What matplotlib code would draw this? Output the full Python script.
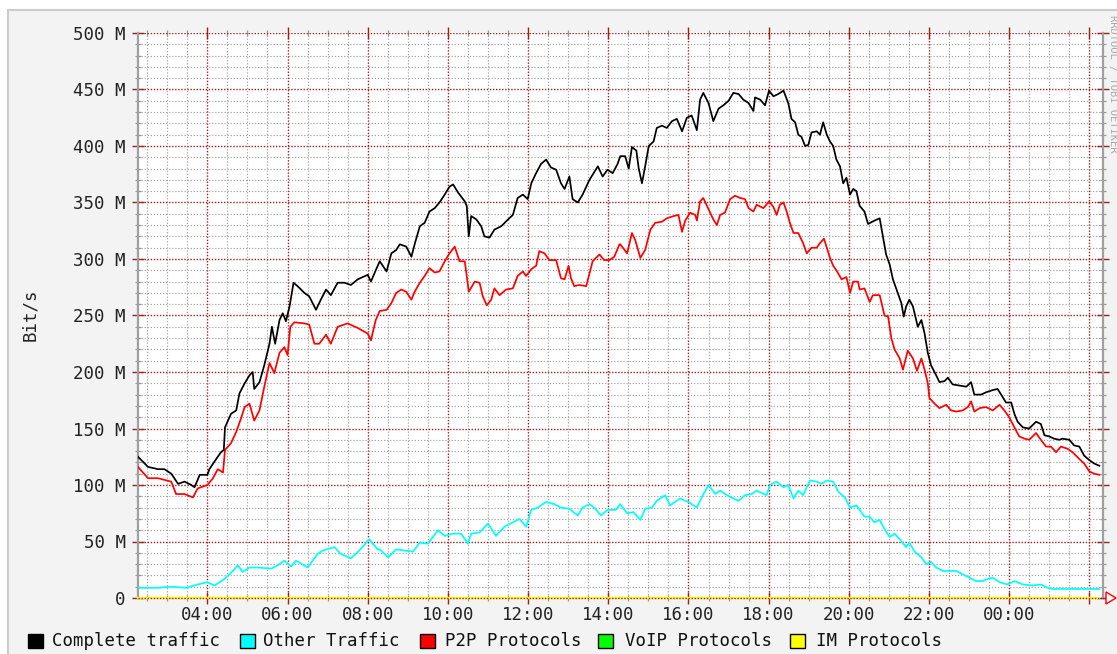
import matplotlib
matplotlib.use("Agg")
import matplotlib.pyplot as plt
from matplotlib.ticker import MultipleLocator, FixedLocator, FixedFormatter
from matplotlib.patches import Rectangle, Polygon
from matplotlib.transforms import IdentityTransform

# ---------------- data (hours of day, Mbit/s) ----------------
complete_t = [2.27, 2.52, 2.77, 2.93, 3.10, 3.27, 3.43, 3.60, 3.68, 3.81, 4.00, 4.05, 4.22, 4.34, 4.41, 4.44,
              4.59, 4.72, 4.80, 4.93, 5.05, 5.13, 5.17, 5.30, 5.42, 5.55, 5.61, 5.69, 5.80, 5.88, 5.96, 6.05,
              6.15, 6.25, 6.42, 6.54, 6.71, 6.83, 6.96, 7.08, 7.25, 7.42, 7.58, 7.75, 8.00, 8.08, 8.20,
              8.30, 8.47, 8.59, 8.71, 8.80, 8.96, 9.09, 9.17, 9.30, 9.42, 9.54, 9.67, 9.79, 9.92, 10.04, 10.13,
              10.25, 10.42, 10.47, 10.52, 10.58, 10.71, 10.83, 10.91, 11.04, 11.16, 11.33, 11.50, 11.62, 11.74,
              11.87, 11.99, 12.08, 12.20, 12.32, 12.45, 12.57, 12.70, 12.82, 12.91, 13.03, 13.11, 13.24, 13.36,
              13.53, 13.74, 13.86, 13.98, 14.11, 14.23,
              14.30, 14.42, 14.51, 14.59, 14.70, 14.76, 14.84, 14.92, 15.01, 15.13, 15.21, 15.34, 15.46, 15.59,
              15.71, 15.84, 15.96, 16.08, 16.21, 16.29, 16.37, 16.50, 16.62, 16.75, 16.87, 17.00, 17.12, 17.25,
              17.37, 17.50, 17.62, 17.66, 17.79, 17.91, 18.01, 18.12, 18.24, 18.37, 18.49, 18.57, 18.66, 18.74,
              18.82, 18.91, 18.99, 19.07, 19.20, 19.28, 19.36, 19.45, 19.53, 19.61, 19.69, 19.78, 19.86, 19.94,
              20.03, 20.11, 20.19,
              20.27, 20.39, 20.48, 20.64, 20.77, 20.85, 20.93, 21.02, 21.10, 21.22, 21.31, 21.37, 21.43, 21.51,
              21.60, 21.72, 21.81, 21.89, 21.97, 22.05, 22.18, 22.26, 22.39, 22.47, 22.59, 22.76, 22.93, 23.05,
              23.13, 23.30, 23.42, 23.59, 23.71, 23.80, 23.92, 24.05, 24.13, 24.21, 24.34, 24.50, 24.67, 24.79,
              24.88, 25.00, 25.12, 25.25, 25.33, 25.50, 25.62, 25.75, 25.87, 26.00, 26.12, 26.25]
complete_v = [125, 116, 114, 114, 110, 101, 103, 100, 98, 109, 109, 114, 123, 129, 131, 151,
              163, 166, 181, 190, 197, 200, 185, 191, 206, 225, 240, 225, 246, 252, 245, 258,
              279, 276, 270, 267, 255, 264, 273, 268, 279, 279, 277, 282, 286, 280, 290,
              298, 289, 305, 308, 313, 311, 302, 313, 329, 332, 342, 345, 350, 357, 364, 366,
              359, 351, 347, 320, 338, 335, 329, 320, 319, 326, 329, 335, 339, 354,
              357, 353, 367, 376, 384, 388, 381, 379, 367, 362, 373, 353, 350, 357,
              370, 382, 373, 379, 376, 384,
              391, 391, 380, 399, 396, 380, 367, 382, 400, 404, 416, 418, 416, 422,
              424, 413, 425, 427, 414, 441, 447, 438, 422, 433, 436, 440, 447, 446,
              441, 438, 431, 443, 441, 436, 449, 444, 446, 449, 438, 424, 421, 410,
              408, 400, 401, 412, 413, 410, 421, 410, 404, 400, 388, 382, 367, 372,
              357, 362, 360,
              347, 342, 331, 334, 336, 320, 304, 295, 282, 270, 261, 249, 258, 264,
              258, 240, 246, 234, 217, 206, 197, 191, 192, 195, 189, 188, 187, 191,
              180, 180, 182, 184, 185, 180, 173, 173, 163, 156, 151, 150, 156, 154,
              144, 143, 141, 140, 141, 140, 135, 134, 126, 122, 119, 117]

p2p_t = [2.27, 2.52, 2.77, 3.10, 3.22, 3.43, 3.64, 3.76, 4.00, 4.14, 4.26, 4.39, 4.44, 4.59, 4.72, 4.84,
         4.93, 5.05, 5.17, 5.30, 5.42, 5.55, 5.67, 5.80, 5.92, 6.00, 6.07, 6.17, 6.42, 6.54, 6.67, 6.79,
         6.96, 7.08, 7.25, 7.50, 7.75, 8.00, 8.08, 8.20,
         8.30, 8.47, 8.59, 8.71, 8.84, 8.96, 9.09, 9.17, 9.30, 9.42, 9.54, 9.67, 9.79, 9.92, 10.04, 10.17,
         10.29, 10.42, 10.47, 10.52, 10.67, 10.79, 10.87, 10.97, 11.08, 11.16, 11.29, 11.45, 11.62, 11.74,
         11.87, 11.95, 12.08, 12.20, 12.28, 12.41, 12.53, 12.70, 12.82, 12.91, 13.01, 13.07, 13.15, 13.28,
         13.45, 13.61, 13.78, 13.90, 14.03, 14.15, 14.28,
         14.30, 14.47, 14.59, 14.67, 14.80, 14.92, 15.05, 15.17, 15.34, 15.46, 15.63, 15.75, 15.84, 15.92,
         16.04, 16.17, 16.21, 16.29, 16.37, 16.50, 16.62, 16.71, 16.79, 16.91, 17.04, 17.16, 17.29, 17.41,
         17.50, 17.62, 17.70, 17.87, 18.01, 18.12, 18.20, 18.28, 18.37, 18.45, 18.53, 18.62, 18.74, 18.86,
         18.95, 19.07, 19.20, 19.28, 19.38, 19.45, 19.53, 19.61, 19.69, 19.82, 19.94, 20.03, 20.11, 20.23,
         20.27, 20.39, 20.52, 20.60, 20.77, 20.89, 20.98, 21.06, 21.14, 21.27, 21.35, 21.47, 21.60, 21.70,
         21.81, 21.89, 21.97, 22.01, 22.14, 22.26, 22.43, 22.55, 22.68, 22.84, 22.97, 23.05, 23.13, 23.26,
         23.42, 23.59, 23.76, 23.88, 24.00, 24.13, 24.25, 24.38, 24.50, 24.67, 24.79, 24.92, 25.04, 25.17,
         25.29, 25.46, 25.58, 25.75, 25.87, 26.00, 26.12, 26.25]
p2p_v = [116, 106, 106, 103, 92, 92, 89, 97, 100, 106, 114, 111, 131, 137, 147, 159,
         169, 172, 157, 166, 187, 208, 199, 217, 222, 215, 240, 244, 243, 242, 225, 225,
         233, 225, 240, 243, 239, 234, 228, 246,
         254, 255, 261, 270, 273, 271, 264, 271, 279, 285, 292, 288, 289, 298, 305, 311,
         298, 298, 285, 271, 280, 279, 267, 259, 264, 274, 268, 273, 274, 285,
         289, 285, 291, 294, 307, 305, 299, 299, 283, 282, 294, 283, 276, 277,
         276, 298, 304, 299, 299, 302, 313,
         313, 305, 323, 317, 301, 308, 326, 332, 333, 336, 338, 339, 324, 334,
         341, 339, 334, 351, 354, 344, 335, 330, 339, 341, 353, 356, 354, 353,
         345, 342, 348, 345, 351, 346, 339, 348, 350, 342, 332, 323, 323, 314,
         305, 310, 310, 314, 318, 310, 301, 294, 290, 282, 284, 270, 280, 280,
         273, 274, 262, 268, 268, 250, 249, 230, 220, 212, 202, 219, 212, 201,
         212, 202, 190, 177, 172, 168, 171, 166, 165, 166, 169, 174, 165, 168,
         169, 166, 171, 166, 160, 151, 143, 141, 140, 146, 140, 134, 134, 129,
         134, 132, 129, 123, 119, 112, 110, 109]

other_t = [2.27, 2.77, 3.10, 3.47, 3.76, 4.00, 4.18, 4.43, 4.64, 4.76, 4.88, 5.05, 5.26, 5.59, 5.76, 5.92,
           6.09, 6.21, 6.50, 6.75, 6.88, 7.17, 7.33, 7.58, 7.79, 8.04, 8.25,
           8.30, 8.51, 8.71, 8.92, 9.13, 9.30, 9.50, 9.75, 9.92, 10.13, 10.33, 10.50, 10.58, 10.79, 11.00,
           11.20, 11.41, 11.62, 11.79, 11.95, 12.08, 12.24, 12.45, 12.66, 12.82, 13.03, 13.24, 13.36, 13.53,
           13.65, 13.82, 13.98, 14.19,
           14.30, 14.47, 14.63, 14.80, 14.92, 15.09, 15.21, 15.42, 15.54, 15.79, 16.00, 16.21, 16.33, 16.50,
           16.67, 16.79, 16.96, 17.12, 17.25, 17.41, 17.58, 17.70, 17.95, 18.03, 18.20, 18.37, 18.49, 18.62,
           18.74, 18.86, 19.03, 19.20, 19.32, 19.45, 19.61, 19.74, 19.90, 20.03, 20.19,
           20.27, 20.39, 20.52, 20.64, 20.77, 20.89, 21.02, 21.14, 21.27, 21.43, 21.51, 21.64, 21.81, 21.93,
           22.05, 22.18, 22.34, 22.51, 22.68, 22.84, 23.01, 23.17, 23.34, 23.47, 23.59, 23.76, 23.96, 24.13,
           24.34, 24.59, 24.79, 24.96, 25.08, 25.42, 25.75, 26.08, 26.25]
other_v = [9, 9, 10, 9, 12, 14, 11, 17, 24, 29, 23, 27, 27, 26, 29, 33,
           28, 33, 27, 39, 42, 45, 39, 35, 42, 52, 43,
           43, 36, 43, 42, 41, 49, 48, 60, 55, 57, 57, 48, 57, 58, 66,
           55, 63, 67, 70, 63, 78, 80, 85, 83, 80, 79, 73, 80, 83,
           80, 73, 78, 78,
           83, 75, 76, 69, 79, 80, 86, 91, 82, 88, 85, 80, 89, 100,
           92, 95, 91, 88, 86, 91, 92, 95, 91, 100, 103, 98, 100, 88,
           95, 91, 104, 103, 101, 104, 103, 94, 89, 80, 82,
           78, 72, 72, 67, 69, 61, 54, 57, 52, 45, 49, 41, 36, 30,
           32, 27, 24, 24, 24, 21, 18, 15, 15, 17, 18, 14, 12, 15,
           12, 11, 12, 9, 8, 8, 8, 8, 8]

voip_t = [2.27, 26.25]
voip_v = [0, 0]
im_t = [2.27, 26.25]
im_v = [0, 0]

x_tick_pos = [4, 6, 8, 10, 12, 14, 16, 18, 20, 22, 24, 26]
x_tick_labels = ["04:00", "06:00", "08:00", "10:00", "12:00", "14:00", "16:00",
                 "18:00", "20:00", "22:00", "00:00", ""]
y_tick_pos = [0, 50, 100, 150, 200, 250, 300, 350, 400, 450, 500]
y_tick_labels = ["0", "50 M", "100 M", "150 M", "200 M", "250 M", "300 M",
                 "350 M", "400 M", "450 M", "500 M"]
legend_labels = ["Complete traffic", "Other Traffic", "P2P Protocols", "VoIP Protocols", "IM Protocols"]
legend_colors = ["#000000", "#00ffff", "#ff0000", "#00ff00", "#ffff00"]

# ---------------- figure ----------------
W, H = 1117, 654
MONO = "DejaVu Sans Mono"
FS = 12.5
MAJ = "#9b2020"
fig = plt.figure(figsize=(W / 100, H / 100), dpi=100, facecolor="white")
idt = IdentityTransform()

# outer canvas frame (RRDtool background)
frame = Rectangle((8 / W, -0.1), 1.2, 1 - 10 / H + 0.1, transform=fig.transFigure,
                  facecolor="#f3f3f3", edgecolor="#cccccc", linewidth=1.5, zorder=-10)
fig.add_artist(frame)

L, R, T, B = 138, 1103, 33, 598
ax = fig.add_axes([L / W, (H - B) / H, (R - L) / W, (B - T) / H])
ax.set_zorder(2)
ax.set_facecolor("white")
ax.set_xlim(2.27, 26.34)
ax.set_ylim(0, 500)

# grid
ax.xaxis.set_major_locator(FixedLocator(x_tick_pos))
ax.xaxis.set_major_formatter(FixedFormatter(x_tick_labels))
ax.xaxis.set_minor_locator(MultipleLocator(0.5))
ax.yaxis.set_major_locator(FixedLocator(y_tick_pos))
ax.yaxis.set_major_formatter(FixedFormatter(y_tick_labels))
ax.yaxis.set_minor_locator(MultipleLocator(10))
ax.set_axisbelow(True)
ax.grid(which="minor", color="#a0a0a0", linestyle=(0, (1, 1.6)), linewidth=0.85)
ax.grid(which="major", color=MAJ, linestyle=(0, (1, 1.2)), linewidth=1.0)

for side in ["top", "bottom"]:
    ax.spines[side].set_visible(False)
for side in ["left", "right"]:
    ax.spines[side].set_color("#a0a0a0")
    ax.spines[side].set_linewidth(1.6)

ax.tick_params(which="both", top=True, right=True, labeltop=False, labelright=False, direction="inout")
ax.tick_params(which="major", length=8, width=1.0, color=MAJ, labelsize=FS, labelcolor="#222222")
ax.tick_params(which="minor", length=5, width=0.9, color="#999999")
ax.tick_params(axis="x", which="major", pad=1.5)
ax.tick_params(axis="y", which="major", pad=5)
for lab in ax.get_xticklabels() + ax.get_yticklabels():
    lab.set_family(MONO)

# data lines
lw = 1.25
ax.plot(voip_t, voip_v, color=legend_colors[3], lw=lw, zorder=3)
ax.plot(im_t, im_v, color=legend_colors[4], lw=1.6, zorder=3, clip_on=False)
ax.axhline(0, color=MAJ, linestyle=(0, (1, 1.2)), lw=1.0, zorder=3.5, clip_on=False)
ax.plot(other_t, other_v, color=legend_colors[1], lw=lw, zorder=4)
ax.plot(p2p_t, p2p_v, color=legend_colors[2], lw=lw, zorder=4)
ax.plot(complete_t, complete_v, color=legend_colors[0], lw=lw, zorder=5)

# y-axis title
fig.text(30 / W, 1 - 315 / H, "Bit/s", rotation=90, ha="center", va="center",
         family=MONO, fontsize=FS, color="#222222")

# x-axis arrow at right end
fig.add_artist(plt.Line2D([R, 1106], [H - B, H - B], transform=idt, color=MAJ, lw=1.0, zorder=5))
fig.add_artist(Polygon([(1106, H - 592), (1116, H - 598), (1106, H - 604)], closed=True,
                       transform=idt, facecolor="white", edgecolor="#ff0000", linewidth=1.0, zorder=5))

# watermark
fig.text(1113 / W, 1 - 15 / H, "RRDTOOL / TOBI OETIKER", rotation=270, ha="center", va="top",
         family=MONO, fontsize=7.5, color="#aaaaaa")

# legend
sq_x = [28, 240, 420, 598, 790]
txt_x = [52, 263, 445, 625, 816]
for sx, tx, lab, col in zip(sq_x, txt_x, legend_labels, legend_colors):
    fig.add_artist(Rectangle((sx, H - 648), 15, 14, transform=idt,
                             facecolor=col, edgecolor="#000000", linewidth=1.0, zorder=5))
    fig.text(tx / W, 1 - 641 / H, lab, ha="left", va="center", family=MONO,
             fontsize=FS, color="#111111")

fig.savefig("out.png", dpi=100, facecolor=fig.get_facecolor())
